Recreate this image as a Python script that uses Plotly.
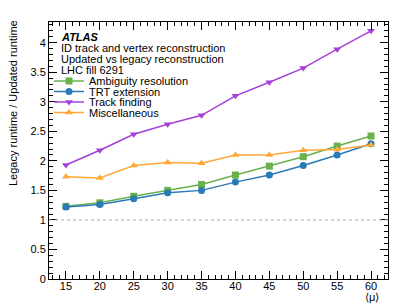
import plotly.graph_objects as go

mu = [15, 20, 25, 30, 35, 40, 45, 50, 55, 60]
ambiguity = [1.23, 1.29, 1.40, 1.50, 1.60, 1.76, 1.91, 2.07, 2.25, 2.42]
trt = [1.22, 1.26, 1.36, 1.46, 1.50, 1.64, 1.76, 1.92, 2.10, 2.29]
track = [1.93, 2.18, 2.45, 2.62, 2.77, 3.10, 3.33, 3.57, 3.89, 4.20]
misc = [1.73, 1.71, 1.92, 1.97, 1.96, 2.10, 2.10, 2.18, 2.19, 2.27]

series = [
    ("Ambiguity resolution", ambiguity, "#6ab04c", "square"),
    ("TRT extension", trt, "#2a7ab8", "circle"),
    ("Track finding", track, "#a440d8", "triangle-down"),
    ("Miscellaneous", misc, "#ffa836", "triangle-up"),
]

FONT = "Liberation Sans"
L, R, T, B = 49, 388, 22, 279
PW, PH = R - L, B - T

fig = go.Figure()
legend_names = ["legend", "legend2", "legend3", "legend4"]
for i, (name, vals, col, sym) in enumerate(series):
    fig.add_trace(go.Scatter(x=mu, y=vals, name=name, mode="lines+markers",
                             line=dict(color=col, width=1.5),
                             marker=dict(color=col, symbol=sym, size=7),
                             legend=legend_names[i]))

fig.add_shape(type="line", xref="paper", x0=0, x1=1, yref="y", y0=1, y1=1,
              line=dict(color="#aaaaaa", width=1, dash="dot"))

axis_common = dict(showgrid=False, zeroline=False, showline=True, linecolor="black",
                   linewidth=1, mirror="ticks", ticks="inside", tickcolor="black",
                   automargin=False,
                   tickfont=dict(family=FONT, size=11, color="black"))
fig.update_xaxes(range=[12.5, 62.5], dtick=5, tick0=0, ticklen=8,
                 ticklabelstandoff=-3,
                 minor=dict(dtick=1, ticks="inside", ticklen=4, tickcolor="black"),
                 **axis_common)
fig.update_yaxes(range=[0, 4.35], dtick=0.5, tick0=0, ticklen=8,
                 minor=dict(dtick=0.1, ticks="inside", ticklen=4, tickcolor="black"),
                 **axis_common)

fig.add_annotation(text="Legacy runtime / Updated runtime", textangle=-90,
                   xref="paper", x=-(L - 13) / PW, xanchor="center",
                   yref="paper", y=(B - 18) / PH, yanchor="top",
                   showarrow=False, font=dict(family=FONT, size=11, color="black"))

ann = [
    dict(text="<b><i>ATLAS</i></b>", y=37),
    dict(text="ID track and vertex reconstruction", y=48),
    dict(text="Updated vs legacy reconstruction", y=59),
    dict(text="LHC fill 6291", y=70),
]
for a in ann:
    fig.add_annotation(text=a["text"], xref="paper", x=(59 - L) / PW, xanchor="left",
                       yref="paper", y=(B - a["y"]) / PH, yanchor="middle",
                       showarrow=False, font=dict(family=FONT, size=11, color="black"))
fig.add_annotation(text="⟨μ⟩", xref="paper", x=(372 - L) / PW, xanchor="center",
                   yref="paper", y=-(297 - B) / PH, yanchor="middle",
                   showarrow=False, font=dict(family=FONT, size=11, color="black"))

legend_ys = [81, 91.5, 102, 112.5]
layout_legends = {}
for name, yc in zip(legend_names, legend_ys):
    layout_legends[name] = dict(x=(49 - L) / PW, xanchor="left",
                                y=(B - yc) / PH, yanchor="middle",
                                bgcolor="rgba(0,0,0,0)", font=dict(family=FONT, size=11, color="black"),
                                itemwidth=30)

fig.update_layout(
    width=407, height=306,
    margin=dict(l=L, r=407 - R, t=T, b=306 - B, autoexpand=False),
    plot_bgcolor="white", paper_bgcolor="white",
    font=dict(family=FONT, size=11, color="black"),
    showlegend=True,
    **layout_legends,
)
fig.write_html("out.html", config={"displayModeBar": False},
               post_script="document.body.style.margin='0';document.body.style.overflow='hidden';")
